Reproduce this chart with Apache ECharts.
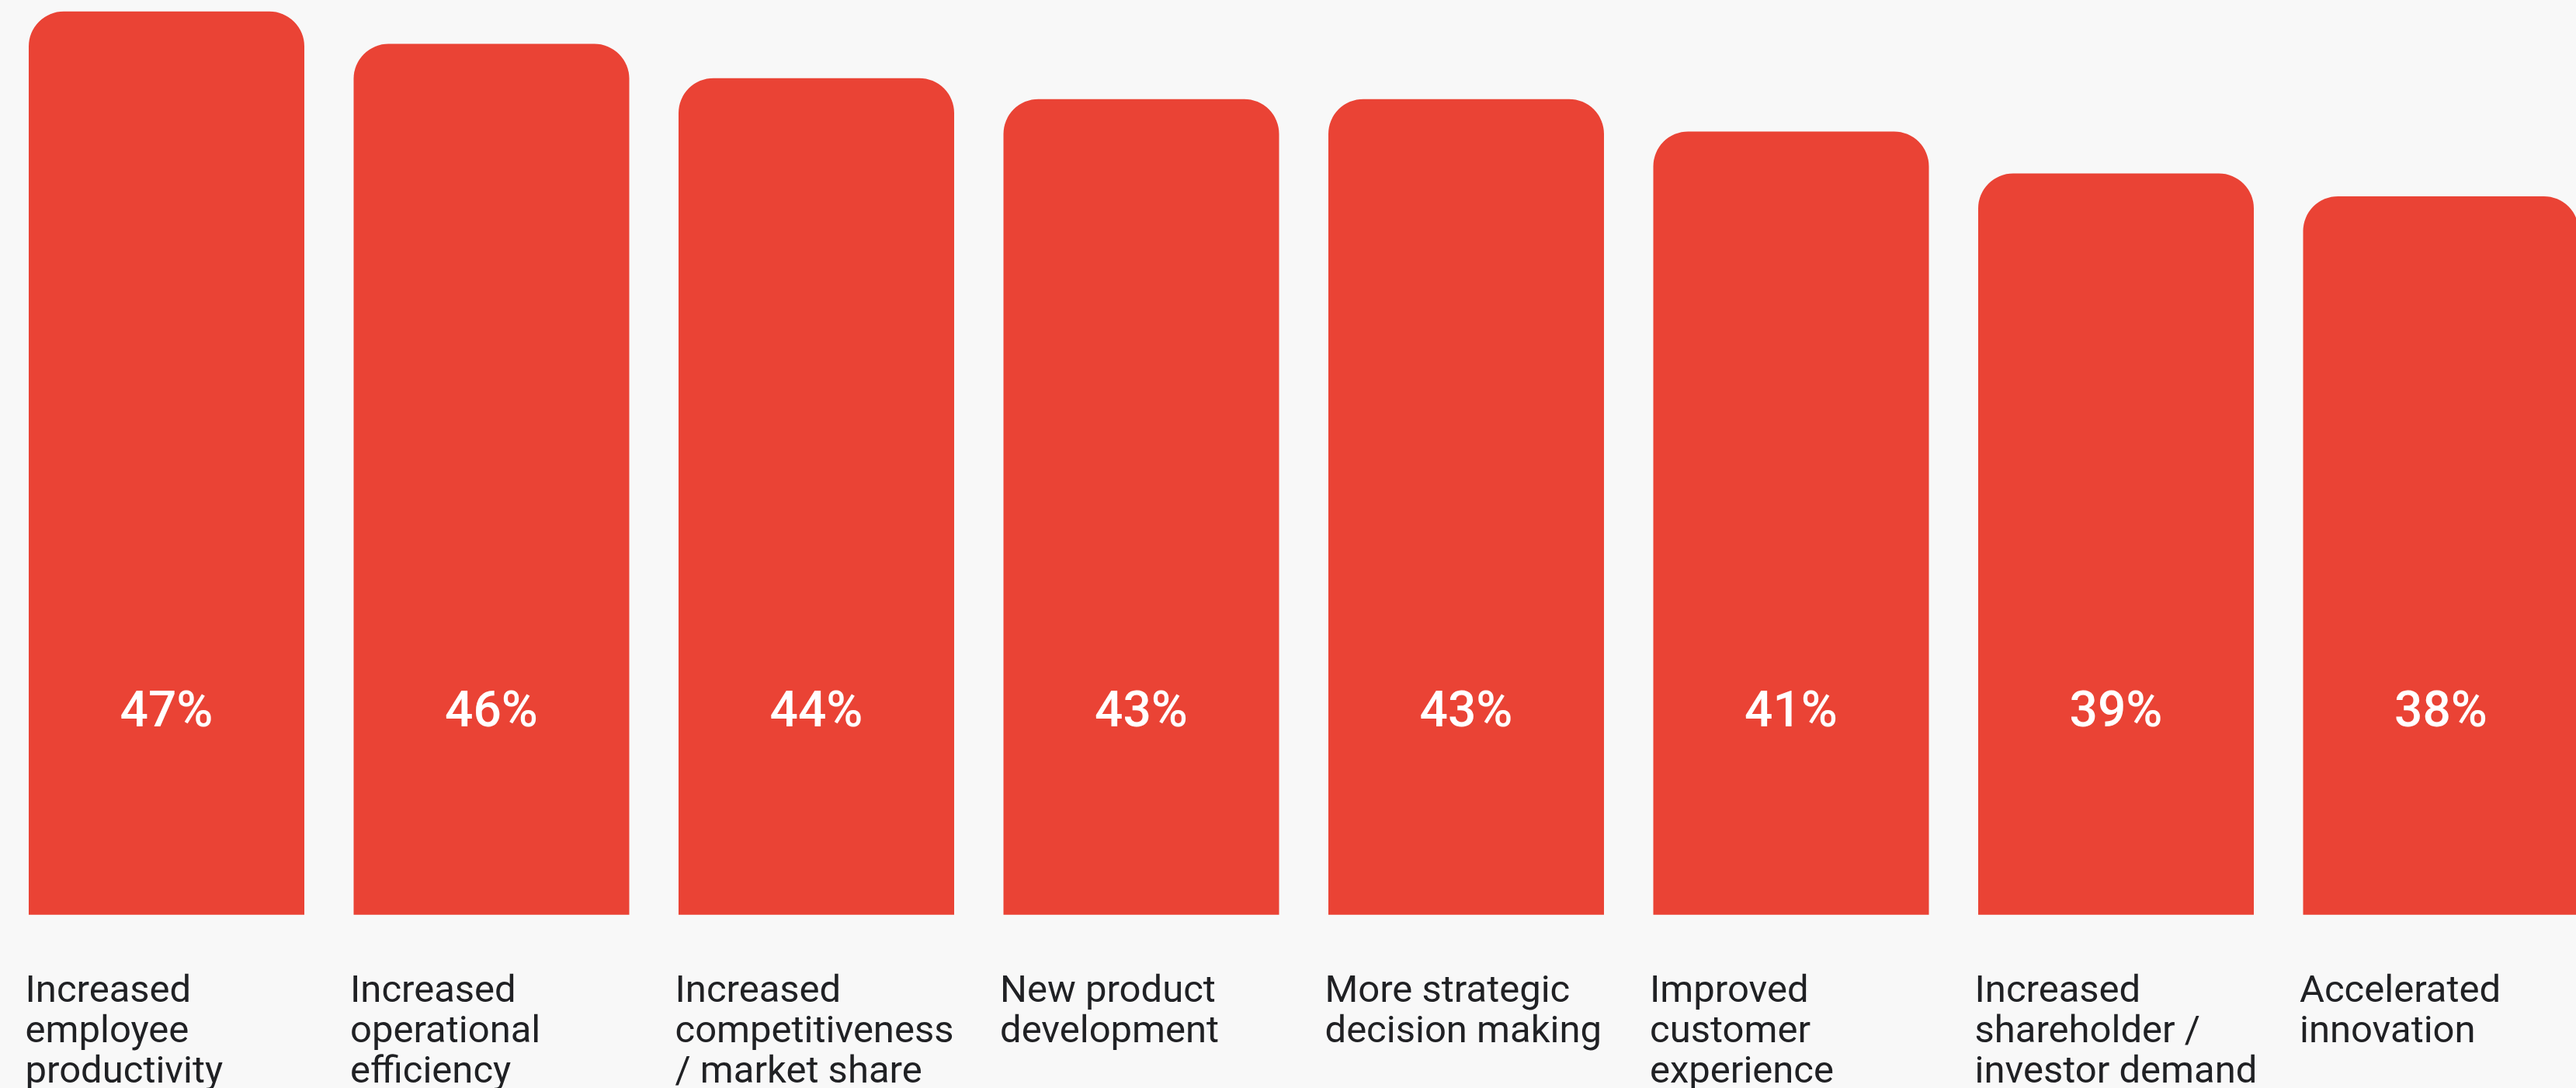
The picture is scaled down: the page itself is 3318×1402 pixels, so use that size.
<!DOCTYPE html>
<html>
<head>
<meta charset="utf-8">
<script src="https://cdn.jsdelivr.net/npm/echarts@6/dist/echarts.min.js"></script>
<style>
  html, body { margin: 0; padding: 0; background: #f8f8f8; }
  #chart { width: 3318px; height: 1402px; }
</style>
</head>
<body>
<div id="chart"></div>
<script>
// Categories (line breaks as in the reference)
const categories = [
  'Increased\nemployee\nproductivity',
  'Increased\noperational\nefficiency',
  'Increased\ncompetitiveness\n/ market share',
  'New product\ndevelopment',
  'More strategic\ndecision making',
  'Improved\ncustomer\nexperience',
  'Increased\nshareholder /\ninvestor demand',
  'Accelerated\ninnovation'
];
// Share of respondents (%); labels show rounded values
const values = [47.4, 45.7, 43.9, 42.8, 42.8, 41.1, 38.9, 37.7];

const chart = echarts.init(document.getElementById('chart'), null, { renderer: 'canvas' });
chart.setOption({
  backgroundColor: '#f8f8f8',
  animation: false,
  grid: {
    left: 5.25, width: 3348, top: 0, bottom: 223.3,
    containLabel: false,
    outerBoundsMode: 'none'
  },
  xAxis: {
    type: 'category',
    data: categories,
    axisLine: { show: false },
    axisTick: { show: false },
    axisLabel: {
      interval: 0,
      align: 'left',
      padding: [0, 0, 0, -182],
      margin: 74,
      fontFamily: 'Roboto',
      fontSize: 49,
      lineHeight: 52,
      color: '#202124',
      hideOverlap: false
    }
  },
  yAxis: {
    type: 'value',
    min: 0,
    max: 48,
    show: false,
    splitLine: { show: false }
  },
  series: [{
    type: 'bar',
    data: values,
    barWidth: 355,
    itemStyle: { color: '#EA4335', borderRadius: [45, 45, 0, 0] },
    label: {
      show: true,
      position: 'insideBottom',
      distance: 227,
      formatter: p => Math.round(p.value) + '%',
      fontFamily: 'Roboto',
      fontWeight: 500,
      fontSize: 64,
      lineHeight: 64,
      color: '#ffffff'
    }
  }]
});
</script>
</body>
</html>
